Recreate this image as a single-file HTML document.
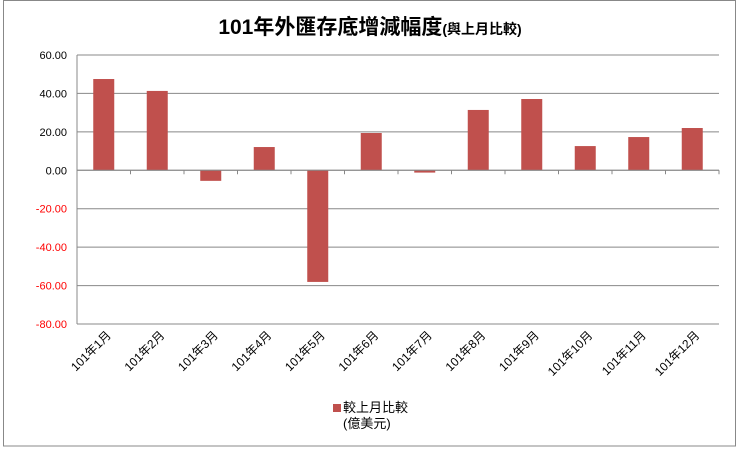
<!DOCTYPE html>
<html><head><meta charset="utf-8"><style>
body{margin:0;background:#fff;width:739px;height:449px;overflow:hidden;font-family:"Liberation Sans","Noto Sans CJK TC",sans-serif}
</style></head><body>
<svg width="739" height="449" xmlns="http://www.w3.org/2000/svg">
<rect x="3.5" y="0.5" width="732" height="445.5" fill="#fff" stroke="#888"/>
<text x="370" y="34" text-anchor="middle" font-family="Liberation Sans,'Noto Sans CJK TC',sans-serif"><tspan font-size="21" font-weight="bold">101年外匯存底增減幅度</tspan><tspan font-size="14" font-weight="bold">(與上月比較)</tspan></text>
<g id="grid"></g><g id="bars"></g><g id="axes"></g>
<rect x="333" y="404" width="8" height="8" fill="#c0504d"/>
<text x="343" y="412" font-size="13">較上月比較</text>
<text x="343" y="428" font-size="13">(億美元)</text>
</svg>
<script>
const categories=["101年1月","101年2月","101年3月","101年4月","101年5月","101年6月","101年7月","101年8月","101年9月","101年10月","101年11月","101年12月"];
const values=[47.5,41.3,-5.5,12.1,-58.1,19.4,-1.2,31.4,37.1,12.6,17.3,22.0];
const ticks=[60,40,20,0,-20,-40,-60,-80];
const tickLabels=["60.00","40.00","20.00","0.00","-20.00","-40.00","-60.00","-80.00"];
const NS="http://www.w3.org/2000/svg";
const L=77,R=719,T=55,B=324,ymax=60,ymin=-80;
const y=v=>T+(ymax-v)/(ymax-ymin)*(B-T);
const bw=(R-L)/categories.length;
const x=i=>L+bw*i;
function mk(t,a,p){const e=document.createElementNS(NS,t);for(const k in a)e.setAttribute(k,a[k]);p.appendChild(e);return e;}
const g=document.getElementById('grid'),b=document.getElementById('bars'),ax=document.getElementById('axes');
ticks.forEach((t,i)=>{
 const ln=mk('line',{x1:L,x2:R,y1:y(t),y2:y(t),stroke:'#888','stroke-width':1},g);
 
 
 const tx=mk('text',{x:67,y:y(t)+4,'text-anchor':'end','font-size':11,fill:t<0?'#ff0000':'#000'},ax);
 tx.textContent=tickLabels[i];
 
 
});
values.forEach((v,i)=>{
 const cx=x(i)+bw/2;
 const r=mk('rect',{x:cx-10.5,y:Math.min(y(v),y(0)),width:21,height:Math.abs(y(v)-y(0)),fill:'#c0504d'},b);
 
 
 const tk=mk('line',{x1:x(i+1),x2:x(i+1),y1:y(0),y2:y(0)+4,stroke:'#888'},ax);
 
 
 const tx=mk('text',{x:cx+8,y:336,'text-anchor':'end','font-size':12,transform:`rotate(-45 ${cx+8} 336)`},ax);
 tx.textContent=categories[i];
 
 
});
const l1=mk('line',{x1:L,x2:L,y1:T,y2:B,stroke:'#888'},ax);


const l2=mk('line',{x1:L,x2:R,y1:y(0),y2:y(0),stroke:'#888'},ax);


</script>
</body></html>
